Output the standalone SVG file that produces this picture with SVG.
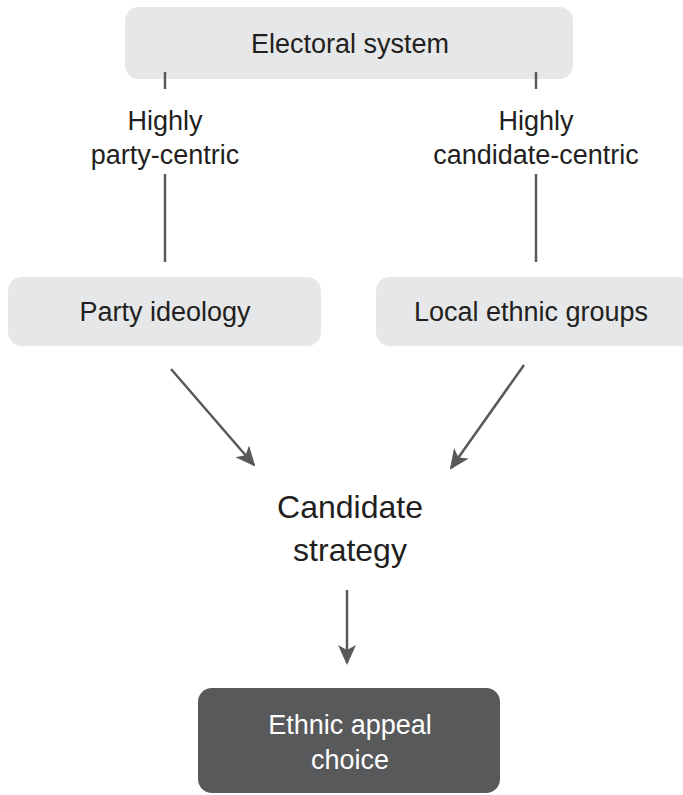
<svg xmlns="http://www.w3.org/2000/svg" width="683" height="795" viewBox="0 0 683 795">
  <style>
    .box { fill: #e6e7e8; }
    .dark { fill: #58595b; }
    .t { font-family: "Liberation Sans", Arial, sans-serif; font-size: 27px; fill: #231f20; text-anchor: middle; }
    .big { font-size: 32px; }
    .w { fill: #ffffff; }
    .ln { stroke: #58595b; stroke-width: 2.5; fill: none; }
  </style>
  <defs>
    <marker id="ah" viewBox="0 0 20 20" refX="18" refY="10" markerWidth="20" markerHeight="20" markerUnits="userSpaceOnUse" orient="auto">
      <path d="M0,1 L20,10 L0,19 L5,10 Z" fill="#58595b"/>
    </marker>
  </defs>

  <g id="electoral-system">
    <rect class="box" x="125" y="7" width="448" height="72" rx="14"/>
    <text class="t" x="350" y="53">Electoral system</text>
  </g>

  <g id="label-party-centric">
    <text class="t" x="165" y="130">Highly</text>
    <text class="t" x="165" y="164">party-centric</text>
  </g>

  <g id="label-candidate-centric">
    <text class="t" x="536" y="130">Highly</text>
    <text class="t" x="536" y="164">candidate-centric</text>
  </g>

  <g id="party-ideology">
    <rect class="box" x="8" y="277" width="313" height="69" rx="14"/>
    <text class="t" x="165" y="321">Party ideology</text>
  </g>

  <g id="local-ethnic-groups">
    <rect class="box" x="376" y="277" width="320" height="69" rx="14"/>
    <text class="t" x="531" y="321">Local ethnic groups</text>
  </g>

  <g id="candidate-strategy">
    <text class="t big" x="350" y="518">Candidate</text>
    <text class="t big" x="350" y="561">strategy</text>
  </g>

  <g id="ethnic-appeal-choice">
    <rect class="dark" x="198" y="688" width="302" height="105" rx="14"/>
    <text class="t w" x="350" y="734">Ethnic appeal</text>
    <text class="t w" x="350" y="769">choice</text>
  </g>

  <g id="connectors">
    <line class="ln" x1="165" y1="72" x2="165" y2="89"/>
    <line class="ln" x1="536" y1="72" x2="536" y2="89"/>
    <line class="ln" x1="165" y1="174" x2="165" y2="262"/>
    <line class="ln" x1="536" y1="174" x2="536" y2="262"/>
    <line class="ln" x1="171" y1="369" x2="254" y2="465" marker-end="url(#ah)"/>
    <line class="ln" x1="524" y1="365" x2="451" y2="468" marker-end="url(#ah)"/>
    <line class="ln" x1="347" y1="590" x2="347" y2="663" marker-end="url(#ah)"/>
  </g>
</svg>
